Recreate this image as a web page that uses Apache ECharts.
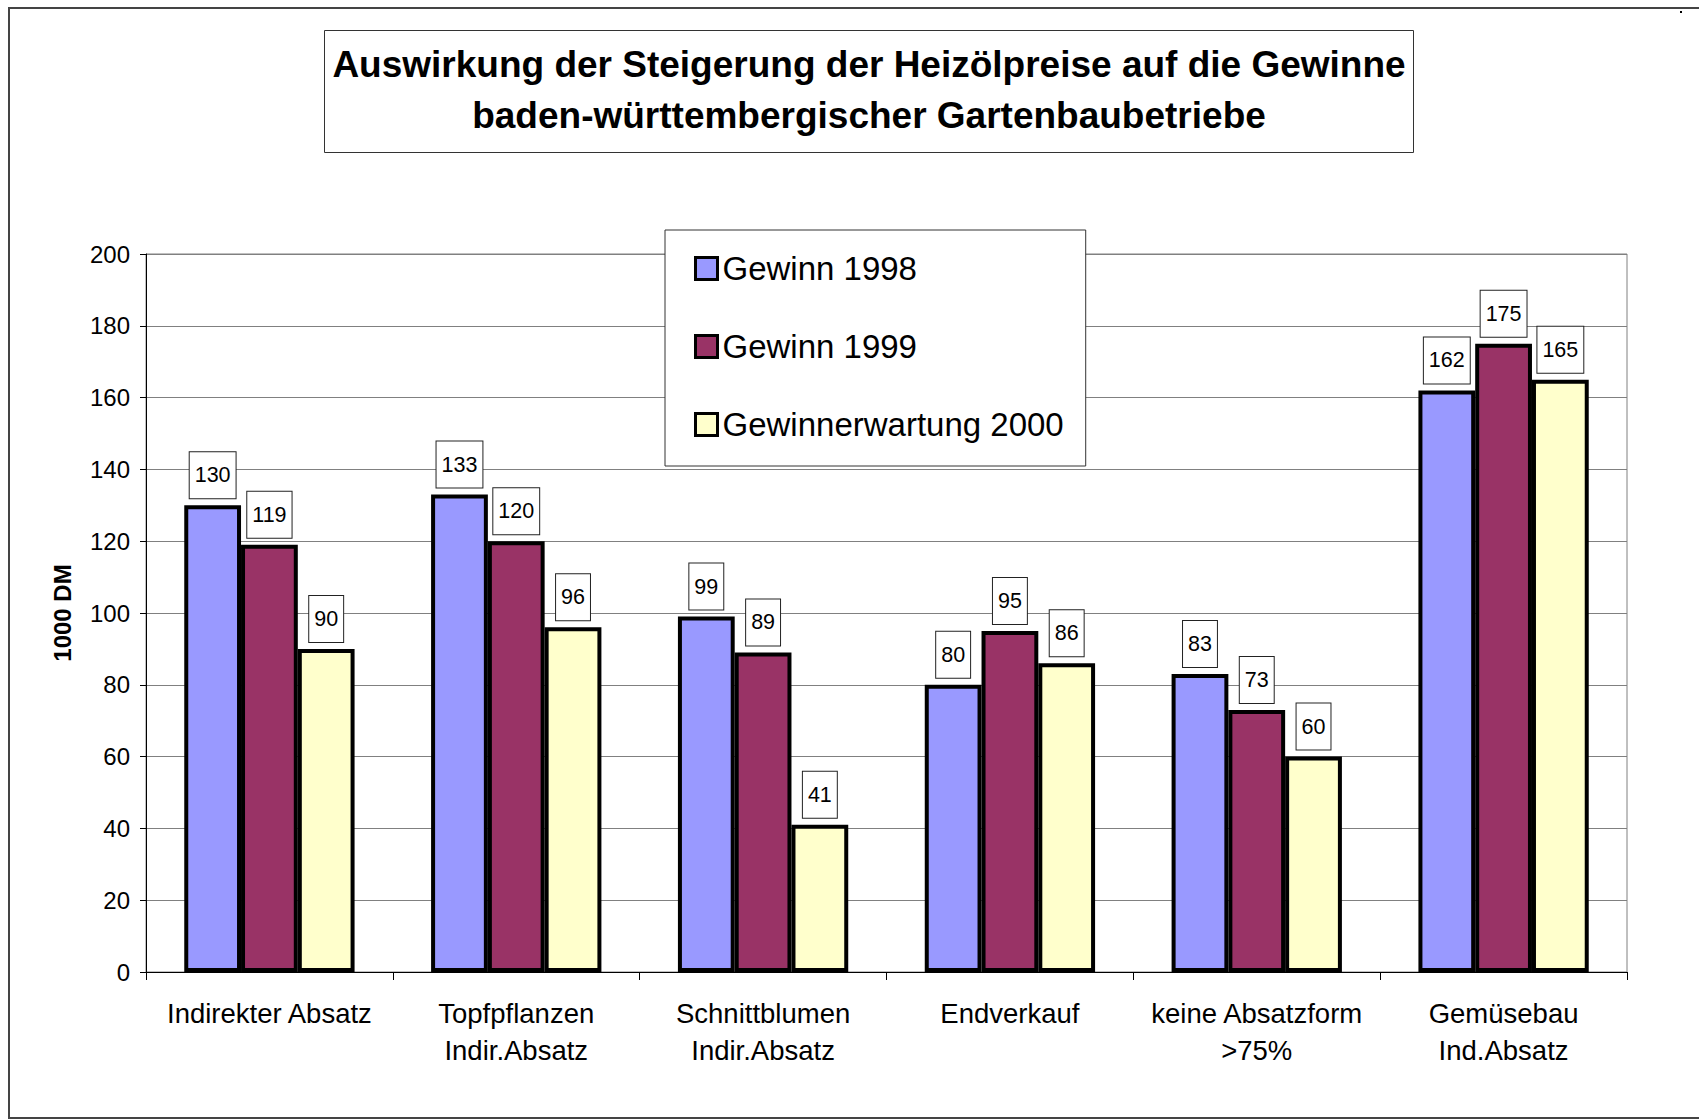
<!DOCTYPE html>
<html lang="de">

<head>
    <meta charset="UTF-8">
    <title>Auswirkung der Steigerung der Heizölpreise</title>
    <script type="text/javascript" src="https://cdn.jsdelivr.net/npm/echarts@6.0.0/dist/echarts.min.js"></script>
    <style>
        html, body { margin: 0; padding: 0; background: #fff; }
        #chart { width: 1699px; height: 1119px; }
    </style>
</head>

<body>
    <div id="chart"></div>

    <script>
        // Daten (1000 DM)
        const categories = [
            'Indirekter Absatz',
            'Topfpflanzen\nIndir.Absatz',
            'Schnittblumen\nIndir.Absatz',
            'Endverkauf',
            'keine Absatzform\n>75%',
            'Gemüsebau\nInd.Absatz'
        ];
        const seriesNames = ['Gewinn 1998', 'Gewinn 1999', 'Gewinnerwartung 2000'];
        const gewinn1998 = [130, 133, 99, 80, 83, 162];
        const gewinn1999 = [119, 120, 89, 95, 73, 175];
        const erwartung2000 = [90, 96, 41, 86, 60, 165];
        const colors = ['#9999FF', '#993366', '#FFFFCC'];

        const font = "'Liberation Sans', Arial, sans-serif";

        const chart = echarts.init(document.getElementById('chart'), null, { renderer: 'svg' });

        function barSeries(name, data, color) {
            return {
                name: name,
                type: 'bar',
                data: data,
                barGap: '0%',
                barCategoryGap: '31%',
                itemStyle: { color: color, borderColor: '#000', borderWidth: 4 },
                label: {
                    show: true,
                    position: 'top',
                    distance: 7,
                    color: '#000',
                    fontFamily: font,
                    fontSize: 21.5,
                    lineHeight: 24,
                    backgroundColor: '#fff',
                    borderColor: '#222',
                    borderWidth: 1,
                    padding: [11, 5, 11, 5]
                }
            };
        }

        chart.setOption({
            animation: false,
            backgroundColor: '#fff',
            textStyle: { fontFamily: font },
            // Rahmen um das ganze Diagramm
            graphic: [{
                type: 'rect',
                shape: { x: 9, y: 8, width: 1720, height: 1110 },
                style: { fill: 'none', stroke: '#444', lineWidth: 2 },
                silent: true
            }, {
                type: 'rect',
                shape: { x: 1680, y: 11, width: 2, height: 2 },
                style: { fill: '#000' },
                silent: true
            }],
            title: {
                text: 'Auswirkung der Steigerung der Heizölpreise auf die Gewinne\nbaden-württembergischer Gartenbaubetriebe',
                left: 861,
                top: 30,
                textAlign: 'center',
                padding: [9, 8, 12, 8],
                backgroundColor: '#fff',
                borderColor: '#333',
                borderWidth: 1,
                textStyle: {
                    fontFamily: font,
                    fontSize: 37,
                    fontWeight: 'bold',
                    lineHeight: 51,
                    color: '#000'
                }
            },
            legend: {
                data: seriesNames,
                orient: 'vertical',
                left: 665,
                top: 230,
                padding: [22, 22, 25, 29],
                itemGap: 45,
                itemWidth: 22,
                itemHeight: 22,
                icon: 'rect',
                backgroundColor: '#fff',
                borderColor: '#333',
                borderWidth: 1,
                selectedMode: false,
                itemStyle: { borderColor: '#000', borderWidth: 3 },
                textStyle: { fontFamily: font, fontSize: 33, color: '#000' }
            },
            grid: {
                left: 146,
                right: 72,
                top: 254,
                bottom: 147,
                show: true,
                borderColor: '#808080',
                borderWidth: 1
            },
            xAxis: {
                type: 'category',
                data: categories,
                axisLine: { lineStyle: { color: '#000', width: 1 } },
                axisTick: { show: true, length: 8, lineStyle: { color: '#000' } },
                axisLabel: {
                    color: '#000',
                    fontFamily: font,
                    fontSize: 27.5,
                    lineHeight: 37,
                    margin: 23,
                    interval: 0
                }
            },
            yAxis: {
                type: 'value',
                min: 0,
                max: 200,
                interval: 20,
                name: '1000 DM',
                nameLocation: 'middle',
                nameRotate: 90,
                nameGap: 72,
                nameTextStyle: { fontFamily: font, fontSize: 24, fontWeight: 'bold', color: '#000' },
                axisLine: { show: true, lineStyle: { color: '#000', width: 1 } },
                axisTick: { show: true, length: 6, lineStyle: { color: '#000' } },
                axisLabel: { color: '#000', fontFamily: font, fontSize: 24, margin: 16 },
                splitLine: { show: true, lineStyle: { color: '#808080', width: 1 } }
            },
            series: [
                barSeries(seriesNames[0], gewinn1998, colors[0]),
                barSeries(seriesNames[1], gewinn1999, colors[1]),
                barSeries(seriesNames[2], erwartung2000, colors[2])
            ]
        });
    </script>
</body>

</html>
